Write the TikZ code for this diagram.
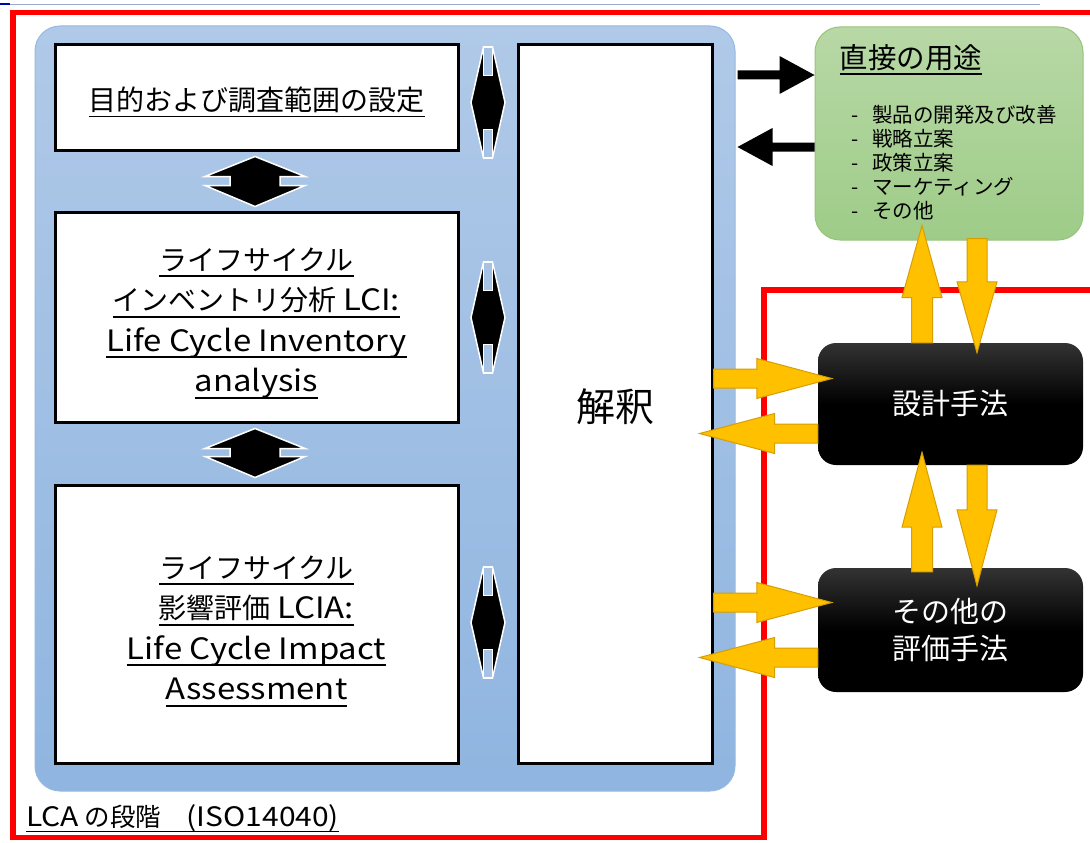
\documentclass[tikz,border=0pt]{standalone}
\usepackage{fontspec}
\setmainfont{Noto Sans CJK JP}
\newfontfamily\latfont[FakeStretch=1.12, Scale=1.05]{Noto Sans CJK JP}
\usetikzlibrary{calc}
\definecolor{redf}{RGB}{255,0,0}
\definecolor{bluetop}{RGB}{176,201,232}
\definecolor{bluebot}{RGB}{143,181,224}
\definecolor{blueedge}{RGB}{150,185,226}
\definecolor{notchc}{RGB}{166,195,230}
\definecolor{greentop}{RGB}{184,216,166}
\definecolor{greenbot}{RGB}{158,204,136}
\definecolor{greenedge}{RGB}{150,196,122}
\definecolor{gold}{RGB}{255,192,0}
\definecolor{golde}{RGB}{214,158,0}
\definecolor{topline}{RGB}{150,170,205}
\newcommand\ul[1]{\setbox0\hbox{#1}\leavevmode\rlap{\rule[-0.24em]{\wd0}{0.06em}}\box0}
\newcommand\lt[1]{{\latfont #1}}
\newcommand\topstrut[1]{\rule{0pt}{#1}}
% block arrow: #1 style, #2 from, #3 to, #4 shaft half, #5 head half, #6 head length
\newcommand\blockarrow[6]{%
  \path[#1] let \p1=(#2), \p2=(#3), \n1={atan2(\y2-\y1,\x2-\x1)}, \n2={veclen(\x2-\x1,\y2-\y1)-#6} in
    ($(\p1)+({\n1+90}:#4)$) -- ($(\p1)+(\n1:\n2)+({\n1+90}:#4)$) -- ($(\p1)+(\n1:\n2)+({\n1+90}:#5)$)
    -- (\p2) -- ($(\p1)+(\n1:\n2)+({\n1-90}:#5)$) -- ($(\p1)+(\n1:\n2)+({\n1-90}:#4)$)
    -- ($(\p1)+({\n1-90}:#4)$) -- cycle;}
% black up-down arrow between phase boxes: #1 top apex, #2 bottom apex
\newcommand\udarrow[2]{%
  \path[bigdbl] let \p1=(#1), \p2=(#2) in
    (\p1) -- (\x1+50pt,\y1-20pt) -- (\x1+25pt,\y1-20pt) -- (\x1+25pt,\y2+21pt) -- (\x1+50pt,\y2+21pt)
    -- (\p2) -- (\x1-50pt,\y2+21pt) -- (\x1-25pt,\y2+21pt) -- (\x1-25pt,\y1-20pt) -- (\x1-50pt,\y1-20pt) -- cycle;}
% narrow black up-down arrow towards interpretation: #1 centre
\newcommand\thinarrow[1]{%
  \path[draw=white, line width=1.5, fill=black, line join=miter] let \p1=(#1) in
    (\x1-4.5pt,\y1+55.5pt) -- (\x1+4.5pt,\y1+55.5pt) -- (\x1+17pt,\y1) -- (\x1+4.5pt,\y1-55.5pt)
    -- (\x1-4.5pt,\y1-55.5pt) -- (\x1-17pt,\y1) -- cycle;
  \path[draw=white, line width=1.2, fill=notchc] let \p1=(#1) in
    (\x1-4.5pt,\y1+55.5pt) rectangle (\x1+4.5pt,\y1+27pt)
    (\x1-4.5pt,\y1-55.5pt) rectangle (\x1+4.5pt,\y1-27pt);}
\tikzset{
  phase/.style={draw=black, fill=white, line width=3, inner sep=0, align=center,
    font=\fontsize{28}{40.5}\selectfont},
  method/.style={rounded corners=18, top color=black!80, bottom color=black, middle color=black,
    inner sep=0, minimum width=265, text=white, align=center, font=\fontsize{29}{37}\selectfont},
  yarr/.style={fill=gold, draw=golde, line width=1, line join=miter},
  karr/.style={fill=black},
  bigdbl/.style={fill=black, draw=white, line width=1.5, line join=miter},
}
\begin{document}
\begin{tikzpicture}[x=1pt,y=-1pt]
\useasboundingbox (0,0) rectangle (1090,843);
\clip (0,0) rectangle (1090,843);
\fill[white] (0,0) rectangle (1090,843);
\draw[topline, line width=0.8] (0,4) -- (1040,4);
\draw[blue!70!black, line width=1.2] (0,4) -- (10,4);
% red frame
\draw[redf, line width=5.5, line join=miter] (1100,12.5) -- (13,12.5) -- (13,837.5) -- (764,837.5) -- (764,290) -- (1100,290);
% LCA container
\node[draw=blueedge, line width=1, rounded corners=25, top color=bluetop, bottom color=bluebot,
  minimum width=700, minimum height=765, inner sep=0] (lca) at (385,408.5) {};
\node[phase, minimum width=403, minimum height=105] (box1) at (256.5,97.5) {\topstrut{33pt}\ul{目的および調査範囲の設定}};
\node[phase, minimum width=403, minimum height=210] (box2) at (256.5,317)
  {\topstrut{35pt}\ul{ライフサイクル}\\\ul{インベントリ分析 \lt{LCI:}}\\\ul{\lt{Life Cycle Inventory}}\\\ul{\lt{analysis}}};
\node[phase, minimum width=403, minimum height=278] (box3) at (256.5,624)
  {\topstrut{37pt}\ul{ライフサイクル}\\\ul{影響評価 \lt{LCIA:}}\\\ul{\lt{Life Cycle Impact}}\\\ul{\lt{Assessment}}};
\node[phase, minimum width=194, minimum height=718, font=\fontsize{39}{42}\selectfont] (kaishaku) at (615,404) {\topstrut{38pt}解釈};
\node[anchor=base west, font=\fontsize{25.5}{30}\selectfont, inner sep=0] (lcalabel) at (26,826) {\ul{\lt{LCA} の段階　\lt{(ISO14040)}}};
% arrows inside container
\udarrow{$(box1.south)+(-1.5,5)$}{$(box2.north)+(-1.5,-4)$}
\udarrow{$(box2.south)+(-1.5,5)$}{$(box3.north)+(-1.5,-6)$}
\coordinate (t1) at ($(box1.east)!0.5!(kaishaku.west |- box1.east)+(0,5)$);
\coordinate (t2) at ($(box2.east)!0.5!(kaishaku.west |- box2.east)+(0,0.5)$);
\coordinate (t3) at ($(box3.east)!0.5!(kaishaku.west |- box3.east)+(0,-1.5)$);
\thinarrow{t1}
\thinarrow{t2}
\thinarrow{t3}
% direct applications
\node[draw=greenedge, line width=1, rounded corners=25, top color=greentop, bottom color=greenbot,
  minimum width=268, minimum height=213, inner sep=0] (green) at (949,133.5) {};
\node[anchor=west, font=\fontsize{28.5}{30}\selectfont, inner sep=0] (gtitle) at ($(green.north west)+(25,33)$) {\ul{直接の用途}};
\foreach \t [count=\i] in {製品の開発及び改善,戦略立案,政策立案,マーケティング,その他}
  \node[anchor=base west, font=\fontsize{20.5}{24}\selectfont, inner sep=0] (li\i) at (851,98+24*\i) {-\hspace{14pt}\t};
% methods
\node[method, minimum height=122] (sekkei) at (950.5,404) {設計手法};
\node[method, minimum height=124] (sonota) at (950.5,630) {その他の\\評価手法};
% black arrows
\coordinate (k1s) at ($(lca.east |- green.west)+(2,-58.5)$);
\coordinate (k1e) at ($(green.west)+(0,-58.5)$);
\coordinate (k2s) at ($(green.west)+(0,13.5)$);
\coordinate (k2e) at ($(lca.east |- green.west)+(2,13.5)$);
\blockarrow{karr}{k1s}{k1e}{4.5pt}{19pt}{35pt}
\blockarrow{karr}{k2s}{k2e}{4.5pt}{19pt}{35pt}
% yellow arrows
\coordinate (ya0) at ($(sekkei.north)+(-28.5,0)$);
\coordinate (ya1) at ($(green.south)+(-27,-15)$);
\coordinate (yb0) at ($(green.south)+(28,-2)$);
\coordinate (yb1) at ($(sekkei.north)+(26.5,10)$);
\coordinate (yc0) at ($(sonota.north)+(-28.5,4)$);
\coordinate (yc1) at ($(sekkei.south)+(-28.5,-13)$);
\coordinate (yd0) at ($(sekkei.south)+(26.5,0)$);
\coordinate (yd1) at ($(sonota.north)+(26.5,18)$);
\coordinate (ye0) at ($(kaishaku.east |- sekkei.west)+(0,-25.5)$);
\coordinate (ye1) at ($(sekkei.west)+(14,-25.5)$);
\coordinate (yf0) at ($(sekkei.west)+(0,29.5)$);
\coordinate (yf1) at ($(kaishaku.east |- sekkei.west)+(-14,29.5)$);
\coordinate (yg0) at ($(kaishaku.east |- sonota.west)+(0,-27.5)$);
\coordinate (yg1) at ($(sonota.west)+(14,-27.5)$);
\coordinate (yh0) at ($(sonota.west)+(0,27.5)$);
\coordinate (yh1) at ($(kaishaku.east |- sonota.west)+(-14,27.5)$);
\blockarrow{yarr}{ya0}{ya1}{10.5pt}{20pt}{72pt}
\blockarrow{yarr}{yb0}{yb1}{10pt}{20pt}{71pt}
\blockarrow{yarr}{yc0}{yc1}{10.5pt}{20pt}{75pt}
\blockarrow{yarr}{yd0}{yd1}{10pt}{20pt}{76pt}
\blockarrow{yarr}{ye0}{ye1}{9.5pt}{20pt}{75pt}
\blockarrow{yarr}{yf0}{yf1}{9.5pt}{20pt}{75pt}
\blockarrow{yarr}{yg0}{yg1}{9.5pt}{20pt}{75pt}
\blockarrow{yarr}{yh0}{yh1}{9.5pt}{20pt}{75pt}
\end{tikzpicture}
\end{document}
